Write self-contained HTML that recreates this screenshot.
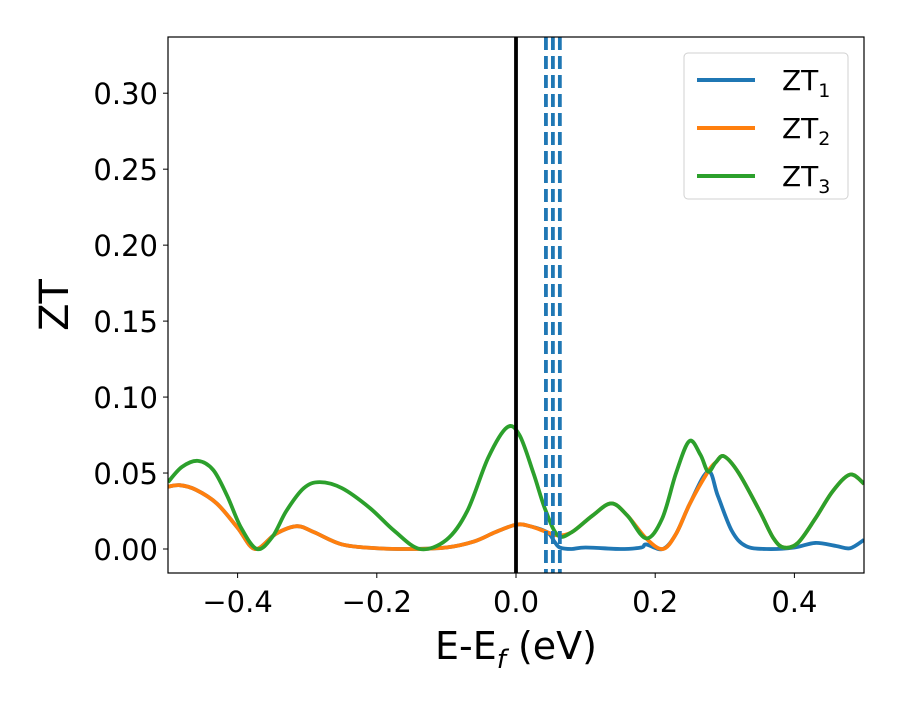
<!DOCTYPE html>
<html><head><meta charset="utf-8"><style>
body{margin:0;background:#fff}
svg text{font-family:"DejaVu Sans","Liberation Sans",sans-serif}
</style></head><body>
<svg id="chart" width="900" height="700" viewBox="0 0 900 700" xmlns="http://www.w3.org/2000/svg">
<defs><clipPath id="clip"><rect x="168" y="37" width="696" height="536"/></clipPath></defs>
<rect x="0" y="0" width="900" height="700" fill="#fff"/>
<g id="marks" clip-path="url(#clip)"></g>
<rect x="168" y="37" width="696" height="536" fill="none" stroke="#000" stroke-width="1.2"/>
<g id="axes"></g>
<text transform="translate(68,305) rotate(-90)" text-anchor="middle" font-size="40">ZT</text>
<text x="516" y="659" text-anchor="middle" font-size="38">E-E<tspan font-size="26" dy="9" font-style="italic">f</tspan><tspan dy="-9"> (eV)</tspan></text>
<g>
<rect x="684" y="53" width="164" height="146" rx="4" fill="#fff" stroke="#ccc" opacity="0.9"/>
<line x1="697" y1="80" x2="755" y2="80" stroke="#1f77b4" stroke-width="4"/>
<text x="782" y="90" font-size="28">ZT<tspan font-size="19" dy="7">1</tspan></text>
<line x1="697" y1="128" x2="755" y2="128" stroke="#ff7f0e" stroke-width="4"/>
<text x="782" y="138" font-size="28">ZT<tspan font-size="19" dy="7">2</tspan></text>
<line x1="697" y1="176" x2="755" y2="176" stroke="#2ca02c" stroke-width="4"/>
<text x="782" y="186" font-size="28">ZT<tspan font-size="19" dy="7">3</tspan></text>
</g>
</svg>
<script>
const xTicks=[-0.4,-0.2,0.0,0.2,0.4];
const xTickLabels=["\u22120.4","\u22120.2","0.0","0.2","0.4"];
const yTicks=[0,0.05,0.1,0.15,0.2,0.25,0.3];
const yTickLabels=["0.00","0.05","0.10","0.15","0.20","0.25","0.30"];
const dashedX=[0.043,0.053,0.063];
const zt1X=[-0.5,-0.483,-0.46,-0.43,-0.40,-0.375,-0.345,-0.315,-0.29,-0.25,-0.2,-0.15,-0.1,-0.06,-0.03,0,0.02,0.045,0.055,0.063,0.08,0.1,0.15,0.18,0.187,0.211,0.23,0.25,0.276,0.29,0.31,0.33,0.36,0.4,0.43,0.46,0.48,0.5];
const zt1Y=[0.041,0.042,0.039,0.030,0.014,0.0,0.010,0.015,0.011,0.003,0.0005,0.0,0.001,0.005,0.011,0.016,0.015,0.011,0.005,0.001,0.0,0.001,0.0,0.001,0.003,0.0,0.01,0.03,0.051,0.035,0.012,0.002,0.0,0.001,0.004,0.002,0.0005,0.006];
const zt2X=[-0.5,-0.483,-0.46,-0.43,-0.40,-0.375,-0.345,-0.315,-0.29,-0.25,-0.2,-0.15,-0.1,-0.06,-0.03,0,0.02,0.045,0.06,0.08,0.11,0.137,0.16,0.187,0.211,0.23,0.25,0.276,0.287,0.299,0.32,0.35,0.37,0.385,0.405,0.43,0.455,0.48,0.5];
const zt2Y=[0.041,0.042,0.039,0.030,0.014,0.0,0.010,0.015,0.011,0.003,0.0005,0.0,0.001,0.005,0.011,0.016,0.015,0.011,0.009,0.011,0.022,0.030,0.022,0.007,0.0,0.01,0.03,0.051,0.057,0.061,0.050,0.025,0.007,0.001,0.004,0.020,0.038,0.049,0.043];
const zt3X=[-0.5,-0.48,-0.457,-0.435,-0.415,-0.395,-0.372,-0.35,-0.33,-0.305,-0.282,-0.25,-0.21,-0.175,-0.138,-0.10,-0.07,-0.04,-0.013,0.005,0.025,0.042,0.06,0.08,0.11,0.137,0.16,0.187,0.21,0.23,0.249,0.265,0.276,0.287,0.299,0.32,0.35,0.37,0.385,0.405,0.43,0.455,0.48,0.5];
const zt3Y=[0.044,0.054,0.058,0.052,0.035,0.014,0.0,0.008,0.025,0.040,0.044,0.040,0.027,0.012,0.0,0.006,0.025,0.060,0.080,0.075,0.050,0.026,0.009,0.011,0.022,0.030,0.022,0.007,0.020,0.050,0.071,0.062,0.051,0.057,0.061,0.050,0.025,0.007,0.001,0.004,0.020,0.038,0.049,0.043];
const X0=168,X1=864,Y0=573,Y1=37,xmin=-0.5,xmax=0.5,ymin=-0.0158,ymax=0.337;
const sx=v=>X0+(v-xmin)/(xmax-xmin)*(X1-X0);
const sy=v=>Y0-(v-ymin)/(ymax-ymin)*(Y0-Y1);
const NS="http://www.w3.org/2000/svg";
const marks=document.getElementById('marks'),axes=document.getElementById('axes');
function path(xs,ys){
  const p=xs.map((x,i)=>[sx(x),sy(ys[i])]);
  let d="M"+p[0][0]+","+p[0][1];
  for(let i=0;i<p.length-1;i++){
    const a=p[Math.max(0,i-1)],b=p[i],c=p[i+1],e=p[Math.min(p.length-1,i+2)];
    d+=" C"+(b[0]+(c[0]-a[0])/6)+","+(b[1]+(c[1]-a[1])/6)+" "+(c[0]-(e[0]-b[0])/6)+","+(c[1]-(e[1]-b[1])/6)+" "+c[0]+","+c[1];
  }
  return d;
}
function line(xs,ys,color,name){
  const el=document.createElementNS(NS,'path');
  el.setAttribute('d',path(xs,ys));
  el.setAttribute('fill','none');el.setAttribute('stroke',color);el.setAttribute('stroke-width','3.8');
  el.setAttribute('stroke-linejoin','round');
  
  
  marks.appendChild(el);
}
line(zt1X,zt1Y,'#1f77b4','zt1-line');
line(zt2X,zt2Y,'#ff7f0e','zt2-line');
line(zt3X,zt3Y,'#2ca02c','zt3-line');
const fl=document.createElementNS(NS,'line');
fl.setAttribute('x1',sx(0));fl.setAttribute('x2',sx(0));fl.setAttribute('y1',Y1);fl.setAttribute('y2',Y0);
fl.setAttribute('stroke','#000');fl.setAttribute('stroke-width','3.8');


marks.appendChild(fl);
dashedX.forEach(v=>{
  const l=document.createElementNS(NS,'line');
  l.setAttribute('x1',sx(v));l.setAttribute('x2',sx(v));l.setAttribute('y1',Y1);l.setAttribute('y2',Y0);
  l.setAttribute('stroke','#1f77b4');l.setAttribute('stroke-width','3.8');l.setAttribute('stroke-dasharray','13 6');
  
  
  marks.appendChild(l);
});
xTicks.forEach((v,i)=>{
  const t=document.createElementNS(NS,'line');
  t.setAttribute('x1',sx(v));t.setAttribute('x2',sx(v));t.setAttribute('y1',Y0);t.setAttribute('y2',Y0+5);t.setAttribute('stroke','#000');
  
  
  axes.appendChild(t);
  const tx=document.createElementNS(NS,'text');
  tx.setAttribute('x',sx(v));tx.setAttribute('y',612);tx.setAttribute('text-anchor','middle');tx.setAttribute('font-size','29');
  tx.textContent=xTickLabels[i];
  
  
  axes.appendChild(tx);
});
yTicks.forEach((v,i)=>{
  const t=document.createElementNS(NS,'line');
  t.setAttribute('x1',X0-5);t.setAttribute('x2',X0);t.setAttribute('y1',sy(v));t.setAttribute('y2',sy(v));t.setAttribute('stroke','#000');
  
  
  axes.appendChild(t);
  const tx=document.createElementNS(NS,'text');
  tx.setAttribute('x',158);tx.setAttribute('y',sy(v)+11);tx.setAttribute('text-anchor','end');tx.setAttribute('font-size','29');
  tx.textContent=yTickLabels[i];
  
  
  axes.appendChild(tx);
});
</script>
</body></html>
